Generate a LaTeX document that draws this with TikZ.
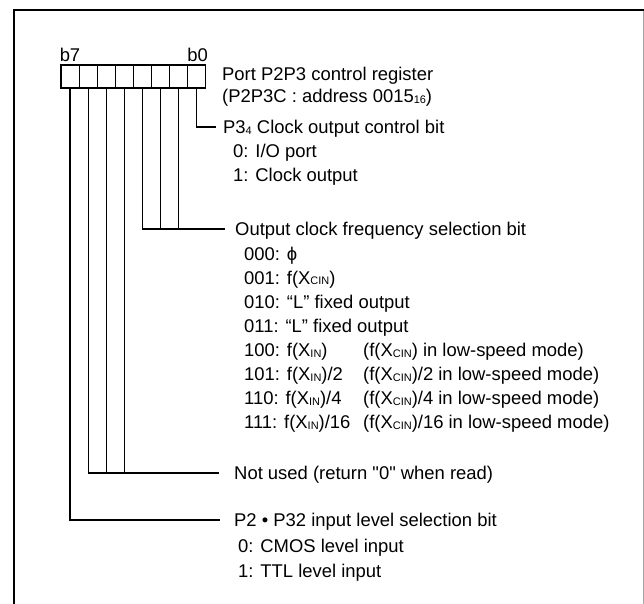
\documentclass[tikz,border=0pt]{standalone}
\usepackage{fontspec}
\setmainfont{Liberation Sans}
\newcommand\sbs[1]{\raisebox{-0.5bp}{\fontsize{11}{11}\selectfont #1}}
\begin{document}
\begin{tikzpicture}[x=1bp,y=-1bp,
  every node/.style={font=\fontsize{18.5}{22}\selectfont},
  lbl/.style={anchor=west, inner sep=0pt, text height=13.25bp, text depth=0pt},
  cell/.style={draw, line width=1.2bp, minimum width=18.1bp, minimum height=23bp, inner sep=0pt},
  wire/.style={line width=1.2bp}]
\useasboundingbox (0,0) rectangle (644,604);
% frame
\draw[line width=2.3bp] (13.8,605) -- (13.8,9.9) -- (645,9.9);
\draw[black!35, line width=1bp] (643.3,11) -- (643.3,605);
% register cells
\foreach \i in {0,...,7}
  \node[cell] (c\i) at ({61+18.1*(7-\i)+9.05}, 76.5) {};
\node[lbl, anchor=center] (b7) at (70,55) {b7};
\node[lbl, anchor=center] (b0) at (197.5,55) {b0};
% title
\node[lbl] (t1) at (222,74) {Port P2P3 control register};
\node[lbl] (t2) at (222,96) {(P2P3C : address 0015\sbs{16})};
% bit 0
\node[lbl] (l0) at (223,127) {P3\sbs{4} Clock output control bit};
\node[lbl] (l0a) at (233,151) {0: I/O port};
\node[lbl] (l0b) at (233,175) {1: Clock output};
\draw[wire, shorten >=7bp] (c0.south) |- (l0.west);
% bits 1-3
\node[lbl] (l1) at (235,229) {Output clock frequency selection bit};
\node[lbl] (r0) at (244,253.5) {000: ϕ};
\node[lbl] (r1) at (244,277.5) {001: f(X\sbs{CIN})};
\node[lbl] (r2) at (244,302) {010: “L” fixed output};
\node[lbl] (r3) at (244,326) {011: “L” fixed output};
\node[lbl] (r4) at (244,350) {100: f(X\sbs{IN})};
\node[lbl] (r5) at (244,374) {101: f(X\sbs{IN})/2};
\node[lbl] (r6) at (244,398) {110: f(X\sbs{IN})/4};
\node[lbl] (r7) at (244,422) {111: f(X\sbs{IN})/16};
\node[lbl] (s4) at (363,350) {(f(X\sbs{CIN}) in low-speed mode)};
\node[lbl] (s5) at (363,374) {(f(X\sbs{CIN})/2 in low-speed mode)};
\node[lbl] (s6) at (363,398) {(f(X\sbs{CIN})/4 in low-speed mode)};
\node[lbl] (s7) at (363,422) {(f(X\sbs{CIN})/16 in low-speed mode)};
\draw[wire, shorten >=10bp] (c3.south) |- (l1.west);
\draw[wire] (c2.south) -- (c2.south |- l1.west);
\draw[wire] (c1.south) -- (c1.south |- l1.west);
% bits 4-6
\node[lbl] (l4) at (234,473) {Not used (return \textquotedbl 0\textquotedbl{} when read)};
\draw[wire, shorten >=15bp] (c6.south) |- (l4.west);
\draw[wire] (c5.south) -- (c5.south |- l4.west);
\draw[wire] (c4.south) -- (c4.south |- l4.west);
% bit 7
\node[lbl] (l7) at (234,520) {P2 • P32 input level selection bit};
\node[lbl] (l7a) at (238,546) {0: CMOS level input};
\node[lbl] (l7b) at (238,571) {1: TTL level input};
\draw[wire, shorten >=14bp] (c7.south) |- (l7.west);
\end{tikzpicture}
\end{document}
